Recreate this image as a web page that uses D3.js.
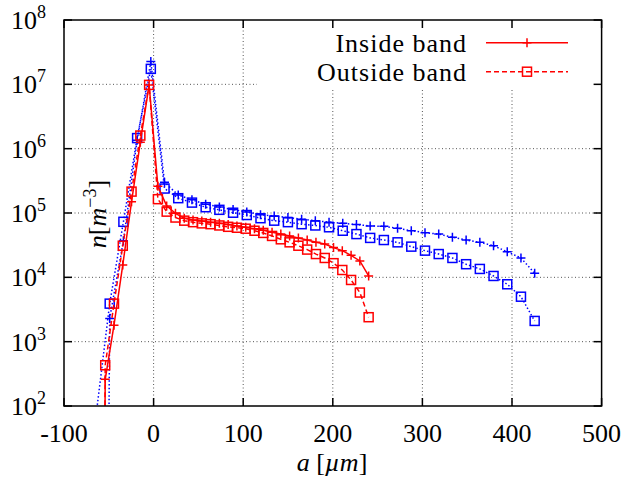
<!DOCTYPE html>
<html>
<head>
<meta charset="utf-8">
<script src="https://cdn.jsdelivr.net/npm/d3@7"></script>
<style>
  body { margin: 0; background: #fff; }
</style>
</head>
<body>
<div id="chart"></div>
<script>
// red series: a positions (um) shared by both red curves
var aRed = [-63.8, -54, -44.2, -34.4, -24.6, -14.8, -5, 4.8, 14.6, 24.4, 34.2, 44, 53.8, 63.6, 73.4, 83.2, 93,
    102.8, 112.6, 122.4, 132.2, 142, 151.8, 161.6, 171.4, 181.2, 191, 200.8, 210.6, 220.4, 230.2, 240];
var redInside = [1e-20, 2.6e2, 1.8e3, 1.56e4, 1.5e5, 1.26e6, 9.8e6, 2.6e5, 1.29e5, 9.9e4, 8.3e4, 7.8e4, 7.5e4, 7.2e4,
    6.9e4, 6.6e4, 6.3e4, 6.0e4, 5.7e4, 5.4e4, 5.0e4, 4.7e4, 4.4e4, 4.1e4, 3.8e4, 3.5e4, 3.3e4, 2.9e4, 2.6e4,
    2.2e4, 1.8e4, 1.05e4];
var redOutside = [1e-20, 4.3e2, 3.9e3, 3.1e4, 2.15e5, 1.6e6, 9.8e6, 1.64e5, 1.05e5, 8.5e4, 7.6e4, 7.2e4, 6.9e4, 6.7e4,
    6.4e4, 6.1e4, 5.9e4, 5.7e4, 5.3e4, 4.9e4, 4.4e4, 3.9e4, 3.5e4, 3.1e4, 2.7e4, 2.3e4, 2.0e4, 1.66e4, 1.3e4,
    9.1e3, 5.8e3, 2.4e3];

// blue series
var aBlue = [-64.3, -49, -33.7, -18.4, -3.1, 12.2, 27.5, 42.8, 58.1, 73.4, 88.7, 104, 119.3, 134.6, 149.9, 165.2,
    180.5, 195.8, 211.1, 226.4, 241.7, 257, 272.3, 287.6, 302.9, 318.2, 333.5, 348.8, 364.1, 379.4, 394.7, 410, 425.3];
var blueInside = [1e-25, 2.3e3, 3.7e4, 1.35e6, 2.26e7, 3.0e5, 1.9e5, 1.6e5, 1.37e5, 1.24e5, 1.13e5, 1.04e5, 9.4e4,
    9.0e4, 8.5e4, 8.0e4, 7.6e4, 7.2e4, 6.9e4, 6.6e4, 6.3e4, 6.2e4, 5.8e4, 5.3e4, 4.95e4, 4.7e4, 4.2e4, 3.8e4,
    3.5e4, 3.1e4, 2.5e4, 2.0e4, 1.16e4];
var blueOutside = [70, 3.9e3, 7.3e4, 1.46e6, 1.74e7, 2.4e5, 1.7e5, 1.45e5, 1.23e5, 1.12e5, 1.01e5, 9.3e4, 8.3e4,
    7.6e4, 7.2e4, 6.7e4, 6.4e4, 6.0e4, 5.3e4, 4.7e4, 4.1e4, 3.8e4, 3.5e4, 3.0e4, 2.6e4, 2.3e4, 2.0e4, 1.6e4,
    1.35e4, 1.05e4, 7.8e3, 5.0e3, 2.1e3];

var xTicks = [-100, 0, 100, 200, 300, 400, 500];
var yExps = [2, 3, 4, 5, 6, 7, 8];
var legendLabels = ["Inside band", "Outside band"];

function init() {
    var w = 629;
    var h = 479;
    var left = 64, right = 601.6, top = 20, bottom = 406;

    var scaleX = d3.scaleLinear().domain([-100, 500]).range([left, right]);
    var scaleY = d3.scaleLog().domain([1e2, 1e8]).range([bottom, top]);

    var svg = d3.select("#chart").append("svg")
        .attr("width", w)
        .attr("height", h)
        .attr("font-family", "'Liberation Serif', 'Times New Roman', 'DejaVu Serif', serif");

    svg.append("clipPath").attr("id", "plotclip")
        .append("rect")
        .attr("x", left).attr("y", top)
        .attr("width", right - left).attr("height", bottom - top);

    // grid
    var grid = svg.append("g")
        .attr("stroke", "#555")
        .attr("stroke-width", 1)
        .attr("stroke-dasharray", "1,2.5");
    grid.selectAll("line.gx")
        .data(xTicks.filter(function (d) { return d > -100 && d < 500; }))
        .enter().append("line")
        .attr("x1", function (d) { return scaleX(d); })
        .attr("x2", function (d) { return scaleX(d); })
        .attr("y1", bottom).attr("y2", top);
    grid.selectAll("line.gy")
        .data(yExps.filter(function (d) { return d > 2 && d < 8; }))
        .enter().append("line")
        .attr("x1", left).attr("x2", right)
        .attr("y1", function (d) { return scaleY(Math.pow(10, d)); })
        .attr("y2", function (d) { return scaleY(Math.pow(10, d)); });

    // legend box hides the grid behind it
    svg.append("rect")
        .attr("x", 257).attr("y", top + 1)
        .attr("width", right - 257 - 1).attr("height", 67)
        .attr("fill", "#fff");

    var plot = svg.append("g").attr("clip-path", "url(#plotclip)");

    var series = [
        {a: aBlue, n: blueInside, color: "blue", dash: "1.5,2.2", marker: "plus"},
        {a: aBlue, n: blueOutside, color: "blue", dash: "1.5,2.2", marker: "square"},
        {a: aRed, n: redOutside, color: "red", dash: "5,3", marker: "square"},
        {a: aRed, n: redInside, color: "red", dash: null, marker: "plus"}
    ];

    var line = d3.line()
        .x(function (d) { return scaleX(d[0]); })
        .y(function (d) { return scaleY(d[1]); });

    function drawMarker(g, kind, color) {
        if (kind === "plus") {
            g.append("path")
                .attr("d", "M-4.5,0H4.5M0,-4.5V4.5")
                .attr("stroke", color).attr("stroke-width", 1.5).attr("fill", "none");
        } else {
            g.append("rect")
                .attr("x", -4.5).attr("y", -4.5).attr("width", 9).attr("height", 9)
                .attr("stroke", color).attr("stroke-width", 1.5).attr("fill", "none");
        }
    }

    series.forEach(function (s) {
        var pts = s.a.map(function (a, i) { return [a, s.n[i]]; });
        plot.append("path")
            .datum(pts)
            .attr("d", line)
            .attr("fill", "none")
            .attr("stroke", s.color)
            .attr("stroke-width", 1.5)
            .attr("stroke-dasharray", s.dash);
        plot.selectAll(null)
            .data(pts)
            .enter().append("g")
            .attr("transform", function (d) {
                return "translate(" + scaleX(d[0]) + "," + scaleY(d[1]) + ")";
            })
            .each(function () { drawMarker(d3.select(this), s.marker, s.color); });
    });

    // frame and ticks
    var axes = svg.append("g").attr("stroke", "#000").attr("stroke-width", 1.5);
    axes.append("rect")
        .attr("x", left).attr("y", top)
        .attr("width", right - left).attr("height", bottom - top)
        .attr("fill", "none");
    xTicks.forEach(function (t) {
        var x = scaleX(t);
        axes.append("line").attr("x1", x).attr("x2", x).attr("y1", bottom).attr("y2", bottom - 8);
        axes.append("line").attr("x1", x).attr("x2", x).attr("y1", top).attr("y2", top + 8);
    });
    yExps.forEach(function (e) {
        var y = scaleY(Math.pow(10, e));
        axes.append("line").attr("x1", left).attr("x2", left + 8).attr("y1", y).attr("y2", y);
        axes.append("line").attr("x1", right).attr("x2", right - 8).attr("y1", y).attr("y2", y);
    });

    // tick labels
    svg.selectAll("text.xt")
        .data(xTicks)
        .enter().append("text")
        .attr("x", function (d) { return scaleX(d); })
        .attr("y", 442)
        .attr("text-anchor", "middle")
        .attr("font-size", 26)
        .text(function (d) { return d; });

    var yl = svg.selectAll("text.yt")
        .data(yExps)
        .enter().append("text")
        .attr("x", 46)
        .attr("y", function (d) { return scaleY(Math.pow(10, d)) + 9; })
        .attr("text-anchor", "end")
        .attr("font-size", 26);
    yl.append("tspan").text("10");
    yl.append("tspan").attr("dy", -11).attr("font-size", 18).text(function (d) { return d; });

    // axis titles
    var xt = svg.append("text")
        .attr("x", 332).attr("y", 471)
        .attr("text-anchor", "middle")
        .attr("font-size", 26);
    xt.append("tspan").attr("font-style", "italic").text("a");
    xt.append("tspan").text(" [");
    xt.append("tspan").attr("font-style", "italic").text("µm");
    xt.append("tspan").text("]");

    var yt = svg.append("text")
        .attr("transform", "translate(106,214) rotate(-90)")
        .attr("text-anchor", "middle")
        .attr("font-size", 26);
    yt.append("tspan").attr("font-style", "italic").text("n");
    yt.append("tspan").text("[");
    yt.append("tspan").attr("font-style", "italic").text("m");
    yt.append("tspan").attr("dy", -10).attr("font-size", 18).text("−3");
    yt.append("tspan").attr("dy", 10).text("]");

    // legend
    var legY = [42.7, 71.7];
    var legStyles = [{dash: null, marker: "plus"}, {dash: "5,3", marker: "square"}];
    legendLabels.forEach(function (lab, i) {
        svg.append("text")
            .attr("x", 467).attr("y", legY[i] + 9)
            .attr("text-anchor", "end")
            .attr("font-size", 26)
            .attr("letter-spacing", 1)
            .text(lab);
        svg.append("line")
            .attr("x1", 486).attr("x2", 568)
            .attr("y1", legY[i]).attr("y2", legY[i])
            .attr("stroke", "red").attr("stroke-width", 1.5)
            .attr("stroke-dasharray", legStyles[i].dash);
        var g = svg.append("g").attr("transform", "translate(527," + legY[i] + ")");
        drawMarker(g, legStyles[i].marker, "red");
    });
}

window.onload = init;
</script>
</body>
</html>
